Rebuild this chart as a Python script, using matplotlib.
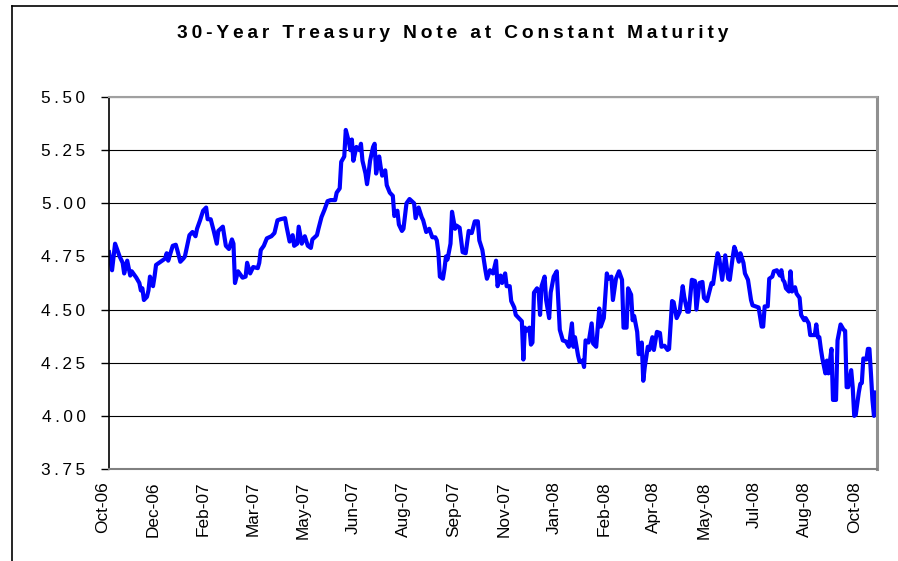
import matplotlib
matplotlib.use("Agg")
import matplotlib.pyplot as plt
from matplotlib.lines import Line2D
from matplotlib.transforms import ScaledTranslation

#data: trading day number and 30-year yield (%)
days = [0, 2, 4, 7, 9, 10, 12, 14, 15, 18, 20, 21, 22, 23, 25, 26, 27, 29, 30, 31,
        33, 35, 37, 38, 39, 42, 44, 45, 47, 49, 50, 53, 55, 57, 58, 60, 62, 64, 65, 67,
        69, 71, 72, 75, 77, 79, 81, 82, 83, 85, 88, 90, 91, 93, 95, 98, 99, 100, 102, 104,
        107, 109, 111, 113, 116, 117, 119, 121, 122, 124, 125, 127, 129, 131, 133, 134, 137, 138, 140, 142,
        144, 146, 149, 150, 152, 153, 155, 156, 158, 159, 160, 161, 163, 165, 166, 167, 169, 170, 171, 172,
        174, 175, 176, 178, 179, 180, 182, 183, 185, 187, 188, 190, 191, 193, 194, 196, 198, 201, 202, 204,
        206, 207, 209, 211, 213, 215, 216, 217, 218, 220, 221, 222, 223, 225, 226, 228, 229, 231, 233, 235,
        237, 239, 241, 243, 244, 246, 248, 249, 251, 253, 255, 256, 258, 259, 261, 262, 264, 265, 267, 268,
        270, 272, 273, 274, 275, 277, 278, 279, 280, 282, 283, 284, 285, 287, 288, 290, 291, 293, 295, 297,
        299, 301, 303, 305, 306, 307, 309, 310, 312, 313, 314, 316, 318, 319, 321, 323, 324, 326, 328, 329,
        331, 332, 334, 336, 338, 339, 341, 342, 344, 345, 346, 348, 349, 351, 352, 353, 355, 356, 358, 359,
        361, 363, 364, 366, 368, 369, 371, 372, 374, 376, 378, 379, 381, 382, 384, 386, 387, 389, 391, 392,
        394, 397, 398, 400, 401, 402, 404, 406, 408, 409, 411, 412, 413, 415, 416, 418, 419, 421, 423, 424,
        426, 428, 430, 431, 432, 434, 435, 437, 438, 440, 442, 443, 444, 445, 446, 448, 449, 450, 452, 453,
        455, 456, 458, 459, 461, 462, 465, 466, 467, 468, 469, 470, 472, 473, 474, 476, 477, 479, 480, 482,
        484, 485, 486, 487, 489, 490, 491, 492, 494, 495, 496, 497, 499, 500, 501, 502, 503, 504, 505]

yields = [4.77, 4.685, 4.81, 4.75, 4.72, 4.67, 4.73, 4.66, 4.68, 4.65, 4.625, 4.59, 4.60, 4.545, 4.56, 4.59, 4.655, 4.61, 4.655, 4.71,
          4.72, 4.73, 4.74, 4.765, 4.73, 4.80, 4.805, 4.78, 4.725, 4.74, 4.75, 4.85, 4.865, 4.845, 4.88, 4.92, 4.965, 4.98, 4.925, 4.925,
          4.87, 4.81, 4.87, 4.89, 4.80, 4.785, 4.83, 4.81, 4.625, 4.68, 4.65, 4.655, 4.72, 4.67, 4.70, 4.695, 4.72, 4.78, 4.80, 4.835,
          4.845, 4.86, 4.92, 4.925, 4.93, 4.89, 4.82, 4.85, 4.80, 4.81, 4.89, 4.81, 4.845, 4.80, 4.79, 4.83, 4.85, 4.88, 4.935, 4.97,
          5.01, 5.015, 5.015, 5.05, 5.07, 5.195, 5.22, 5.345, 5.29, 5.25, 5.30, 5.20, 5.265, 5.25, 5.28, 5.20, 5.14, 5.09, 5.14, 5.20,
          5.265, 5.28, 5.14, 5.22, 5.17, 5.13, 5.155, 5.085, 5.05, 5.035, 4.94, 4.965, 4.90, 4.87, 4.88, 5.00, 5.02, 5.00, 4.93, 4.98,
          4.935, 4.92, 4.865, 4.88, 4.84, 4.84, 4.825, 4.77, 4.655, 4.645, 4.69, 4.75, 4.735, 4.81, 4.96, 4.88, 4.895, 4.885, 4.77, 4.765,
          4.87, 4.86, 4.915, 4.915, 4.825, 4.78, 4.685, 4.645, 4.685, 4.67, 4.73, 4.61, 4.66, 4.625, 4.67, 4.61, 4.61, 4.54, 4.51, 4.475,
          4.46, 4.445, 4.265, 4.415, 4.40, 4.415, 4.335, 4.345, 4.58, 4.60, 4.59, 4.475, 4.61, 4.655, 4.545, 4.46, 4.58, 4.655, 4.68, 4.405,
          4.355, 4.35, 4.325, 4.435, 4.325, 4.37, 4.285, 4.255, 4.26, 4.23, 4.355, 4.345, 4.435, 4.34, 4.325, 4.505, 4.42, 4.46, 4.67, 4.645,
          4.655, 4.545, 4.645, 4.68, 4.64, 4.415, 4.415, 4.60, 4.57, 4.45, 4.47, 4.395, 4.29, 4.345, 4.165, 4.23, 4.325, 4.31, 4.37, 4.31,
          4.395, 4.39, 4.325, 4.33, 4.31, 4.315, 4.54, 4.535, 4.46, 4.49, 4.61, 4.56, 4.49, 4.49, 4.64, 4.635, 4.50, 4.625, 4.63, 4.555,
          4.54, 4.625, 4.62, 4.72, 4.765, 4.745, 4.64, 4.755, 4.645, 4.64, 4.75, 4.795, 4.775, 4.725, 4.765, 4.72, 4.67, 4.64, 4.545, 4.52,
          4.515, 4.51, 4.42, 4.42, 4.515, 4.515, 4.645, 4.655, 4.68, 4.685, 4.66, 4.685, 4.64, 4.63, 4.60, 4.585, 4.68, 4.585, 4.605, 4.575,
          4.555, 4.475, 4.45, 4.46, 4.435, 4.38, 4.38, 4.43, 4.37, 4.37, 4.315, 4.27, 4.20, 4.26, 4.20, 4.315, 4.075, 4.075, 4.355, 4.43,
          4.405, 4.40, 4.135, 4.135, 4.215, 4.135, 4.00, 4.005, 4.11, 4.15, 4.155, 4.27, 4.265, 4.315, 4.315, 4.20, 4.075, 4.00, 4.11]

#category labels shown every 33 trading days
tick_days = [0, 33, 66, 99, 132, 165, 198, 231, 264, 297, 330, 363, 396, 429, 462, 495]
tick_labels = ["Oct-06", "Dec-06", "Feb-07", "Mar-07", "May-07", "Jun-07", "Aug-07", "Sep-07",
               "Nov-07", "Jan-08", "Feb-08", "Apr-08", "May-08", "Jul-08", "Aug-08", "Oct-08"]
y_ticks = [3.75, 4.00, 4.25, 4.50, 4.75, 5.00, 5.25, 5.50]

title = "30-Year Treasury Note at Constant Maturity"

#excel spreads the letters out, fake it with thin spaces
def spaced(s):
    return "\u2009".join(s)

fonts = ["Liberation Sans", "DejaVu Sans"]

fig = plt.figure(figsize=(8.98, 5.61), dpi=100)
ax = fig.add_axes([109/898, 1-469/561, 768/898, 372/561])

ax.plot(days, yields, color="#0000ff", linewidth=3.0, solid_joinstyle="round")

ax.set_xlim(0, 506)
ax.set_ylim(3.75, 5.50)

#horizontal grid lines
ax.set_yticks(y_ticks)
ax.set_yticklabels([spaced("%.2f" % v) for v in y_ticks], family=fonts, fontsize=12.4)
ax.yaxis.grid(True, color="black", linewidth=0.8)
ax.set_axisbelow(True)
ax.tick_params(axis="y", direction="out", length=6, width=1, color="black", pad=11)

ax.set_xticks(tick_days)
ax.set_xticklabels(tick_labels, rotation=90, family=fonts, fontsize=12.4)
ax.tick_params(axis="x", length=0, pad=9)
#labels sit a bit left of their category
for lab in ax.get_xticklabels():
    lab.set_transform(lab.get_transform() + ScaledTranslation(-6/100, 0, fig.dpi_scale_trans))

#plot box: black left edge, grey elsewhere
ax.spines["left"].set_color("black")
ax.spines["left"].set_linewidth(1.2)
ax.spines["bottom"].set_color("#808080")
ax.spines["bottom"].set_linewidth(1.5)
ax.spines["top"].set_color("#a0a0a0")
ax.spines["top"].set_linewidth(1.5)
ax.spines["right"].set_color("#909090")
ax.spines["right"].set_linewidth(2.2)

fig.text(453/898, 1-33/561, spaced(title), ha="center", va="center",
         fontsize=13.8, fontweight="bold", family=fonts)

#chart area border (only top and left are in frame)
fig.add_artist(Line2D([12/898, 12/898], [0, 1-5.5/561], transform=fig.transFigure, color="black", linewidth=1.2))
fig.add_artist(Line2D([12/898, 1], [1-5.5/561, 1-5.5/561], transform=fig.transFigure, color="black", linewidth=1.2))

plt.savefig("out.png", dpi=100)
